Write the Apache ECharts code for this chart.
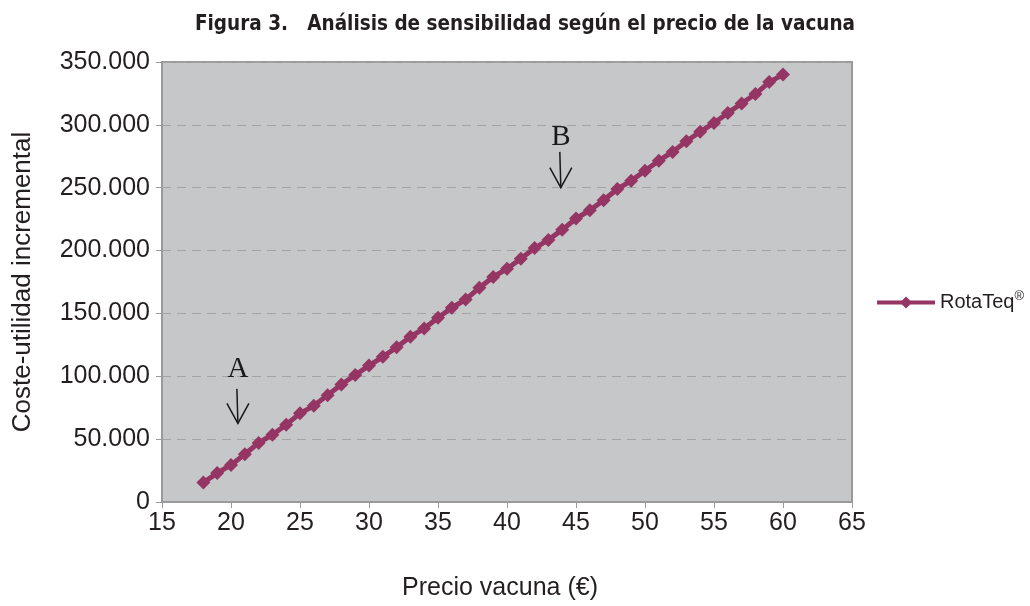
<!DOCTYPE html>
<html>
<head>
<meta charset="utf-8">
<script src="https://cdn.jsdelivr.net/npm/echarts@6/dist/echarts.min.js"></script>
<style>html,body{margin:0;padding:0;background:#fff}#c{width:1030px;height:606px}</style>
</head>
<body>
<div id="c"></div>
<script>
const prices = [18,19,20,21,22,23,24,25,26,27,28,29,30,31,32,33,34,35,36,37,38,39,40,41,42,43,44,45,46,47,48,49,50,51,52,53,54,55,56,57,58,59,60];
const rotateq = [15500,23000,29500,38000,47000,53500,61500,70500,76500,85000,93500,101000,108500,115500,123000,131500,138000,146500,154500,161000,170500,179000,185500,193500,202000,208500,216500,225500,232000,240000,249000,255500,263500,271500,278500,287000,294500,301500,309500,317000,324500,334000,340000];
const xTicks = {min:15, max:65, interval:5};
const yTicks = {min:0, max:350000, interval:50000};
const annotations = [
  {label:'A', x:20.5, textY:105500, from:90000, to:62500},
  {label:'B', x:43.9, textY:289700, from:278500, to:250000}
];

const chart = echarts.init(document.getElementById('c'), null, {renderer:'canvas'});
const fmt = v => String(v).replace(/\B(?=(\d{3})+(?!\d))/g, '.');
const option = {
  backgroundColor:'#fff',
  animation:false,
  title:{
    text:'Figura 3.   Análisis de sensibilidad según el precio de la vacuna',
    left:520, top:9, textAlign:'center',
    textStyle:{fontFamily:'DejaVu Sans Condensed', fontWeight:'bold', fontSize:20.5, color:'#231f20'}
  },
  grid:{left:162, right:178, top:62, bottom:103, show:true, backgroundColor:'#c6c7c9', borderColor:'#9a9a9a', borderWidth:2},
  legend:{
    data:['RotaTeq'], left:870, top:285, orient:'vertical',
    itemWidth:58, itemHeight:15, itemGap:4,
    lineStyle:{width:4, color:'#953564'},
    formatter: () => 'RotaTeq{s|®}',
    textStyle:{fontFamily:'Liberation Sans', fontSize:20, color:'#231f20', rich:{s:{fontSize:13, verticalAlign:'top', padding:[0,0,12,0], fontFamily:'Liberation Sans', color:'#231f20'}}}
  },
  xAxis:{
    type:'value', min:xTicks.min, max:xTicks.max, interval:xTicks.interval,
    name:'Precio vacuna (€)', nameLocation:'middle', nameGap:74,
    nameTextStyle:{fontFamily:'Liberation Sans', fontSize:25, color:'#231f20', padding:[0,14,0,0]},
    axisLine:{show:true, lineStyle:{color:'#9a9a9a', width:2}},
    axisTick:{show:true, length:6, lineStyle:{color:'#9a9a9a', width:1}},
    axisLabel:{fontFamily:'Liberation Sans', fontSize:25, color:'#231f20', margin:9},
    splitLine:{show:false}
  },
  yAxis:{
    type:'value', min:yTicks.min, max:yTicks.max, interval:yTicks.interval,
    name:'Coste-utilidad incremental', nameLocation:'middle', nameGap:126,
    nameTextStyle:{fontFamily:'Liberation Sans', fontSize:26, color:'#231f20'},
    axisLine:{show:true, lineStyle:{color:'#9a9a9a', width:2}},
    axisTick:{show:true, length:6, lineStyle:{color:'#9a9a9a', width:1}},
    axisLabel:{fontFamily:'Liberation Sans', fontSize:25, color:'#231f20', margin:12, formatter:fmt},
    splitLine:{show:true, lineStyle:{color:'#a3a3a3', type:[9,6], width:1}}
  },
  series:[{
    name:'RotaTeq', type:'line',
    data: prices.map((p,i)=>[p, rotateq[i]]),
    symbol:'diamond', symbolSize:14, showAllSymbol:true,
    lineStyle:{color:'#953564', width:5},
    itemStyle:{color:'#953564'},
    z:5
  }]
};
chart.setOption(option);

const g = [];
annotations.forEach(a => {
  const t = chart.convertToPixel({gridIndex:0}, [a.x, a.textY]);
  const p1 = chart.convertToPixel({gridIndex:0}, [a.x, a.from]);
  const p2 = chart.convertToPixel({gridIndex:0}, [a.x, a.to]);
  g.push({type:'text', x:t[0], y:t[1], style:{text:a.label, fontFamily:'Liberation Serif', fontSize:29, fill:'#1a1a1a', align:'center', verticalAlign:'middle'}, z:10});
  g.push({type:'polyline', shape:{points:[[p1[0]-1,p1[1]],[p2[0],p2[1]]]}, style:{stroke:'#1a1a1a', lineWidth:1.5, fill:null}, z:10});
  g.push({type:'polyline', shape:{points:[[p2[0]-11,p2[1]-20],[p2[0],p2[1]],[p2[0]+11,p2[1]-20]]}, style:{stroke:'#1a1a1a', lineWidth:1.5, fill:null}, z:10});
});
chart.setOption({graphic:g});
</script>
</body>
</html>
